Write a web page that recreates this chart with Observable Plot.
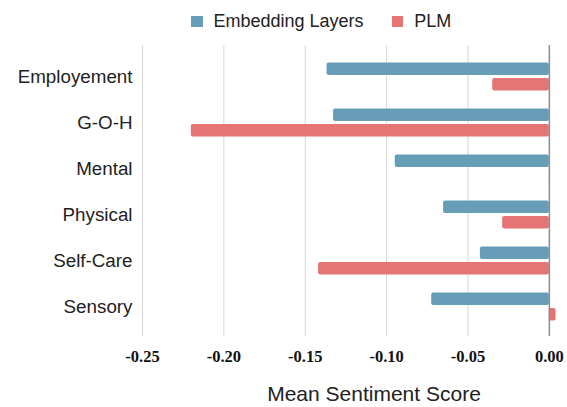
<!DOCTYPE html>
<html>
<head>
<meta charset="utf-8">
<script src="https://cdn.jsdelivr.net/npm/d3@7"></script>
<script src="https://cdn.jsdelivr.net/npm/@observablehq/plot@0.6"></script>
<style>
  html, body { margin: 0; padding: 0; background: #fff; }
  body { position: relative; width: 567px; height: 407px; overflow: hidden; font-family: "Liberation Sans", Arial, sans-serif; color: #222; }
  .legend-item { position: absolute; top: 0; height: 43px; display: flex; align-items: center; font-size: 18px; white-space: nowrap; }
  .swatch { width: 11.5px; height: 11.5px; display: inline-block; margin-right: 11px; }
  #chart { position: absolute; top: 36px; left: 0; }
  #xtitle { position: absolute; top: 387px; left: 374px; transform: translateX(-50%); font-size: 21px; line-height: 14px; white-space: nowrap; color: #222; }
</style>
</head>
<body>
<div id="legend"></div>
<div id="chart"></div>
<div id="xtitle"></div>
<script>
const categories = ["Employement", "G-O-H", "Mental", "Physical", "Self-Care", "Sensory"];
const series = ["Embedding Layers", "PLM"];
const embeddingValues = [-0.1366, -0.1326, -0.0947, -0.0650, -0.0424, -0.0723];
const plmValues = [-0.0348, -0.2200, 0.0005, -0.0287, -0.1418, 0.0041];
const colors = ["#679db7", "#e57474"];
const xTicks = [-0.25, -0.20, -0.15, -0.10, -0.05, 0.00];
const xLabel = "Mean Sentiment Score";

// legend
const legendLefts = [191, 391.7];
const legend = document.getElementById("legend");
series.forEach((s, i) => {
  const item = document.createElement("div");
  item.className = "legend-item";
  item.style.left = legendLefts[i] + "px";
  const sw = document.createElement("span");
  sw.className = "swatch";
  sw.style.background = colors[i];
  item.appendChild(sw);
  item.appendChild(document.createTextNode(s));
  legend.appendChild(item);
});

const seriesValues = [embeddingValues, plmValues];
// per-series placement within each category band (pixel insets)
const insets = [{insetTop: 9.5, insetBottom: 24.1}, {insetTop: 25.1, insetBottom: 8.5}];

const plot = Plot.plot({
  width: 567,
  height: 350,
  marginTop: 9,
  marginBottom: 50,
  marginLeft: 142,
  marginRight: 10,
  style: {background: "transparent", fontFamily: "Liberation Sans, Arial, sans-serif"},
  x: {domain: [-0.25, 0.005]},
  y: {domain: categories, paddingInner: 0, paddingOuter: 0.15},
  marks: [
    Plot.ruleX(xTicks.filter(d => d !== 0), {stroke: "#d6d6d6", strokeWidth: 1}),
    ...seriesValues.map((vals, s) =>
      Plot.barX(vals, {x: d => d, y: (d, i) => categories[i], fill: colors[s], rx: 2, ...insets[s]})
    ),
    Plot.ruleX([0], {stroke: "#8c8c8c", strokeWidth: 1.5}),
    Plot.axisY({anchor: "left", tickSize: 0, tickPadding: 10, fontSize: 18.8, label: null, fill: "#222"}),
    Plot.axisX(xTicks, {anchor: "bottom", tickSize: 0, tickPadding: 14, tickFormat: d => d.toFixed(2), label: null, fontSize: 16.5, fontFamily: "Liberation Serif", fontWeight: "bold", fill: "#111"})
  ]
});
document.getElementById("chart").appendChild(plot);
document.getElementById("xtitle").textContent = xLabel;
</script>
</body>
</html>
